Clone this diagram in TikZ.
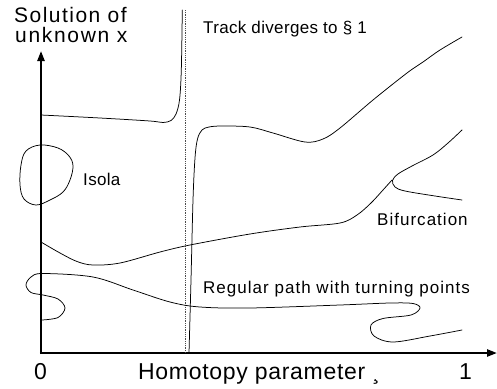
\documentclass[tikz,border=0pt]{standalone}
\usepackage{fontspec}
\setmainfont{Liberation Sans}
\usetikzlibrary{arrows.meta}
\newcommand{\fsz}[2]{\fontsize{#1}{#1}\selectfont\addfontfeatures{LetterSpace=#2}}
\begin{document}
\begin{tikzpicture}[x=1pt,y=-1pt,
  curve/.style={line width=0.75pt, line join=round, line cap=round},
  axisline/.style={line width=2.2pt, -{Triangle[length=10pt,width=7pt]}},
  lbl/.style={inner sep=0pt, anchor=base west, text=black}]
\useasboundingbox (0,0) rectangle (497,388);
% axes
\coordinate (O) at (41,353);
\coordinate (Ytip) at (41,51);
\coordinate (Xtip) at (497,353);
\draw[axisline] ([yshift=-1.1pt]O) -- (Ytip);
\draw[axisline] ([xshift=-1.1pt]O) -- (Xtip);
% dotted asymptote
\coordinate (Dtop) at (185,10);
\coordinate (Dbot) at (185,353);
\draw[line width=0.5pt, dash pattern=on 0.9pt off 0.9pt, black!70] (Dtop) -- (Dbot);
% upper-left curve diverging
\draw[curve] plot[smooth, tension=0.55] coordinates {(41,115) (100,118) (150,121) (163,122.5) (171,120.5) (176,114) (179.5,100) (181.3,70) (182.3,10)};
% big upper curve from the right of the asymptote
\draw[curve] plot[smooth, tension=0.55] coordinates {(189,353) (191,280) (193,200) (195,158) (197.5,139) (202,130) (209,127) (222,126) (250,127) (273,133) (305,142) (323,139) (340,128) (373,100) (407,73) (423,62) (440,50) (462,37)};
% isola
\draw[curve] plot[smooth cycle, tension=0.6] coordinates {(40,145) (58,148) (69,156) (73,166) (70,180) (63,192) (50,200) (36,205) (24,199) (20,185) (21,165) (26,151)};
% bifurcation
\draw[curve] plot[smooth, tension=0.55] coordinates {(41,242) (60,253) (77,261.5) (93,265) (120,263) (160,252) (190,245) (250,234) (300,227) (340,223) (357,215) (371,203) (383,190) (392,180)};
\draw[curve] plot[smooth, tension=0.55] coordinates {(462,130) (448,143) (433,155) (412,166) (398,174) (392.5,180.5) (395,187) (405,191) (435,196) (462,200)};
% regular path with turning points
\draw[curve] plot[smooth, tension=0.55] coordinates {(42,320) (58,317.5) (65,308) (58,299) (43,295) (31,292.5) (26,285) (31,277) (43,273.5) (93,277) (133,290) (170,302) (200,307) (250,308) (340,305) (390,303) (413,303.5) (420,308) (411,315) (383,318.5) (371,325) (374,336) (393,342) (430,336) (462,330)};
% labels
\node[lbl] (title1) at (14,22) {\fsz{21}{7}Solution of};
\node[lbl] (title2) at (15,42) {\fsz{21}{8}unknown x};
\node[lbl] (track) at (203,33) {\fsz{17}{2}Track diverges to § 1};
\node[lbl] (isola) at (83,185) {\fsz{17}{2}Isola};
\node[lbl] (bif) at (377,225) {\fsz{17}{6}Bifurcation};
\node[lbl] (regular) at (203,293) {\fsz{17}{6}Regular path with turning points};
\node[lbl] (zero) at (34,379) {\fsz{23}{0}0};
\node[lbl] (hom) at (138,379) {\fsz{23}{3}Homotopy parameter ¸};
\node[lbl] (one) at (459,379) {\fsz{23}{0}1};
\end{tikzpicture}
\end{document}
